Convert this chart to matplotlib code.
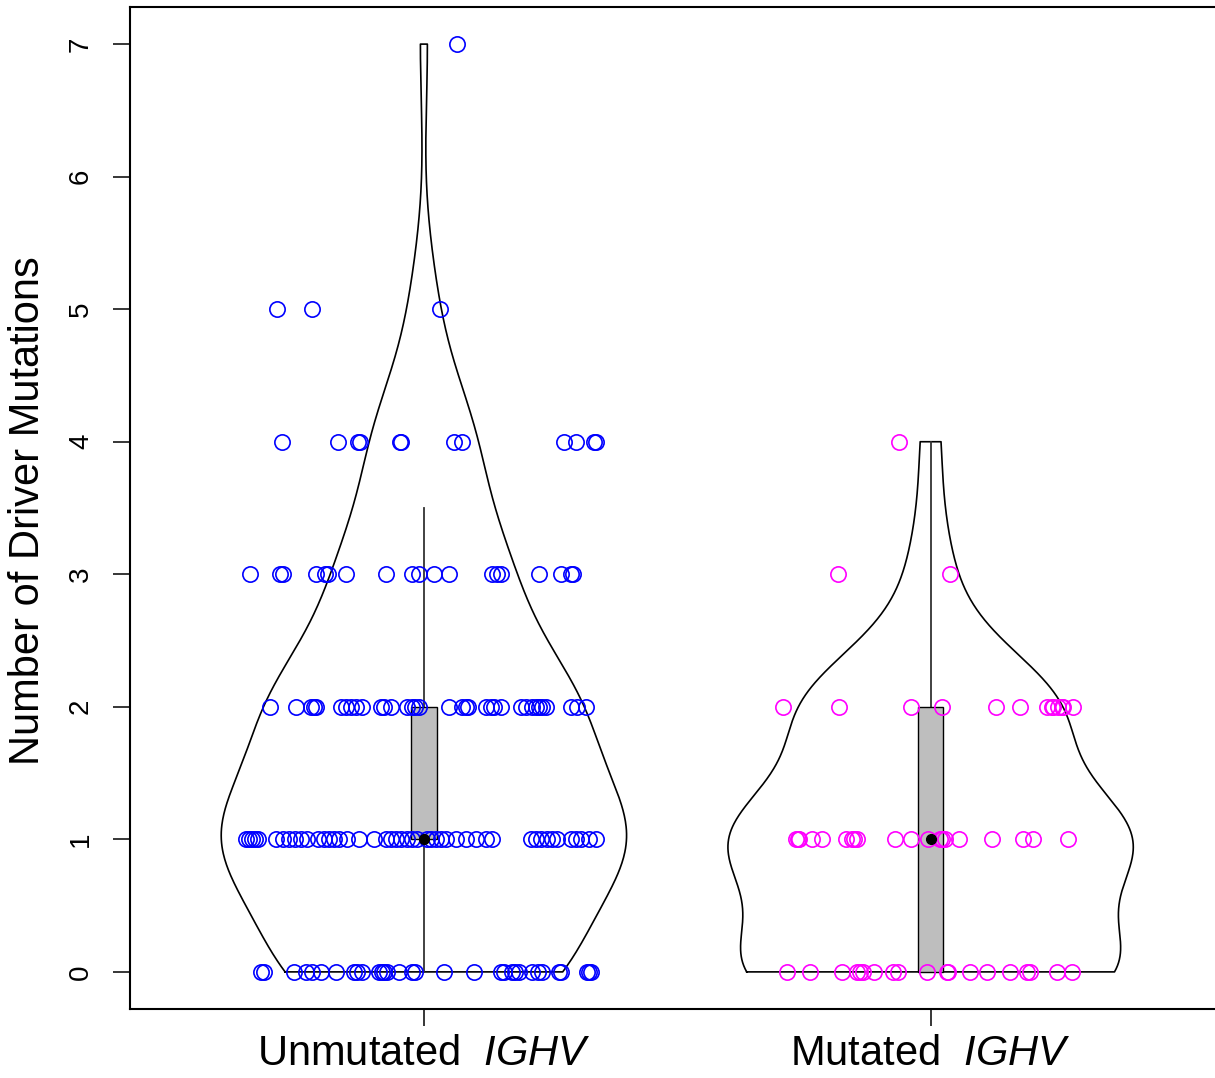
import numpy as np
import matplotlib
matplotlib.use('Agg')
import matplotlib.pyplot as plt
from matplotlib.patches import Rectangle

plt.rcParams['font.family'] = ['Liberation Sans', 'DejaVu Sans']
plt.rcParams['mathtext.fontset'] = 'custom'
plt.rcParams['mathtext.rm'] = 'Liberation Sans'
plt.rcParams['mathtext.it'] = 'Liberation Sans:italic'

group_labels = ['Unmutated  $\\mathit{IGHV}$', 'Mutated  $\\mathit{IGHV}$']
group_colors = ['#0000ff', '#ff00ff']
y_ticks = [0, 1, 2, 3, 4, 5, 6, 7]

# number of driver mutations (levels) and jitter offsets of the points at each level
unmut_levels = [0, 1, 2, 3, 4, 5, 7]
unmut_jitter = [
    [-0.322, -0.316, -0.257, -0.233, -0.221, -0.204, -0.174, -0.138, -0.132, -0.123,
     -0.089, -0.083, -0.079, -0.073, -0.049, -0.024, -0.018, 0.040, 0.099, 0.152,
     0.158, 0.174, 0.180, 0.188, 0.213, 0.225, 0.233, 0.267, 0.271, 0.322, 0.326, 0.330],
    [-0.352, -0.346, -0.340, -0.334, -0.328, -0.291, -0.279, -0.267, -0.255, -0.243,
     -0.231, -0.208, -0.198, -0.188, -0.178, -0.168, -0.152, -0.128, -0.099, -0.075,
     -0.065, -0.055, -0.045, -0.034, -0.024, -0.014, 0.006, 0.014, 0.024, 0.034,
     0.043, 0.063, 0.083, 0.103, 0.123, 0.134, 0.211, 0.221, 0.231, 0.243,
     0.253, 0.263, 0.291, 0.300, 0.310, 0.326, 0.340],
    [-0.304, -0.253, -0.223, -0.217, -0.213, -0.164, -0.154, -0.144, -0.134, -0.123,
     -0.085, -0.079, -0.065, -0.034, -0.024, -0.018, -0.010, 0.049, 0.075, 0.083,
     0.087, 0.123, 0.132, 0.138, 0.152, 0.192, 0.202, 0.213, 0.221, 0.227,
     0.233, 0.241, 0.291, 0.302, 0.320],
    [-0.344, -0.283, -0.279, -0.213, -0.196, -0.190, -0.154, -0.075, -0.024, -0.010,
     0.020, 0.049, 0.134, 0.144, 0.152, 0.227, 0.271, 0.291, 0.294],
    [-0.281, -0.170, -0.130, -0.126, -0.047, -0.045, 0.059, 0.075, 0.277, 0.300, 0.336, 0.340],
    [-0.289, -0.221, 0.032],
    [0.065],
]

mut_levels = [0, 1, 2, 3, 4]
mut_jitter = [
    [-0.283, -0.239, -0.174, -0.146, -0.140, -0.134, -0.111, -0.075, -0.065, -0.008,
     0.032, 0.034, 0.077, 0.111, 0.156, 0.190, 0.196, 0.249, 0.279],
    [-0.265, -0.262, -0.259, -0.235, -0.215, -0.166, -0.156, -0.151, -0.146, -0.071,
     -0.038, -0.006, 0.018, 0.022, 0.028, 0.057, 0.121, 0.182, 0.202, 0.271],
    [-0.292, -0.180, -0.038, 0.022, 0.130, 0.176, 0.229, 0.239, 0.241, 0.251, 0.259,
     0.261, 0.281],
    [-0.182, 0.038],
    [-0.063],
]


def expand(levels, jitter):
    vals, offs = [], []
    for lev, js in zip(levels, jitter):
        vals += [lev] * len(js)
        offs += js
    return np.array(vals, float), np.array(offs)


def draw_violin(ax, vals, at):
    # kernel density like sm.density with the normal-optimal bandwidth
    n = len(vals)
    h = np.std(vals, ddof=1) * (4.0 / (3 * n)) ** 0.2
    grid = np.linspace(vals.min(), vals.max(), 512)
    d = np.exp(-0.5 * ((grid[:, None] - vals[None, :]) / h) ** 2).sum(axis=1)
    w = d / d.max() * 0.4
    xs = np.concatenate([at - w, (at + w)[::-1], [at - w[0]]])
    ys = np.concatenate([grid, grid[::-1], [grid[0]]])
    ax.plot(xs, ys, color='black', lw=1.2, zorder=2)

    q1, med, q3 = np.percentile(vals, [25, 50, 75])
    iqr = q3 - q1
    upper = min(q3 + 1.5 * iqr, vals.max())
    lower = max(q1 - 1.5 * iqr, vals.min())
    ax.plot([at, at], [lower, upper], color='#333333', lw=1.3, zorder=2)
    ax.add_patch(Rectangle((at - 0.025, q1), 0.05, q3 - q1, facecolor='#bebebe',
                           edgecolor='black', lw=1.0, zorder=2))
    return med


fig = plt.figure(figsize=(12.15, 10.78), dpi=100)
ax = fig.add_axes([130 / 1215, 69 / 1078, 1094.5 / 1215, 1002 / 1078])

data = [expand(unmut_levels, unmut_jitter), expand(mut_levels, mut_jitter)]
for i, (vals, offs) in enumerate(data):
    at = i + 1
    med = draw_violin(ax, vals, at)
    ax.plot(at + offs, vals, 'o', ls='none', ms=11, mfc='none', mec=group_colors[i],
            mew=1.2, zorder=3)
    ax.plot(at, med, 'o', color='black', ms=7, zorder=4)

ax.set_xlim(0.42, 2.58)
ax.set_ylim(-0.28, 7.28)
ax.set_xticks([1, 2])
ax.set_xticklabels(group_labels, fontsize=30)
ax.set_yticks(y_ticks)
ax.set_yticklabels([str(t) for t in y_ticks], fontsize=20, rotation=90, va='center')
ax.tick_params(axis='x', length=12, width=1.1, pad=6)
ax.tick_params(axis='y', length=12, width=1.1, pad=14)
for sp in ax.spines.values():
    sp.set_linewidth(1.5)

fig.text(28 / 1215, 1 - 511 / 1078, 'Number of Driver Mutations', rotation=90,
         ha='center', va='center', fontsize=30)

fig.savefig('out.png', dpi=100)
